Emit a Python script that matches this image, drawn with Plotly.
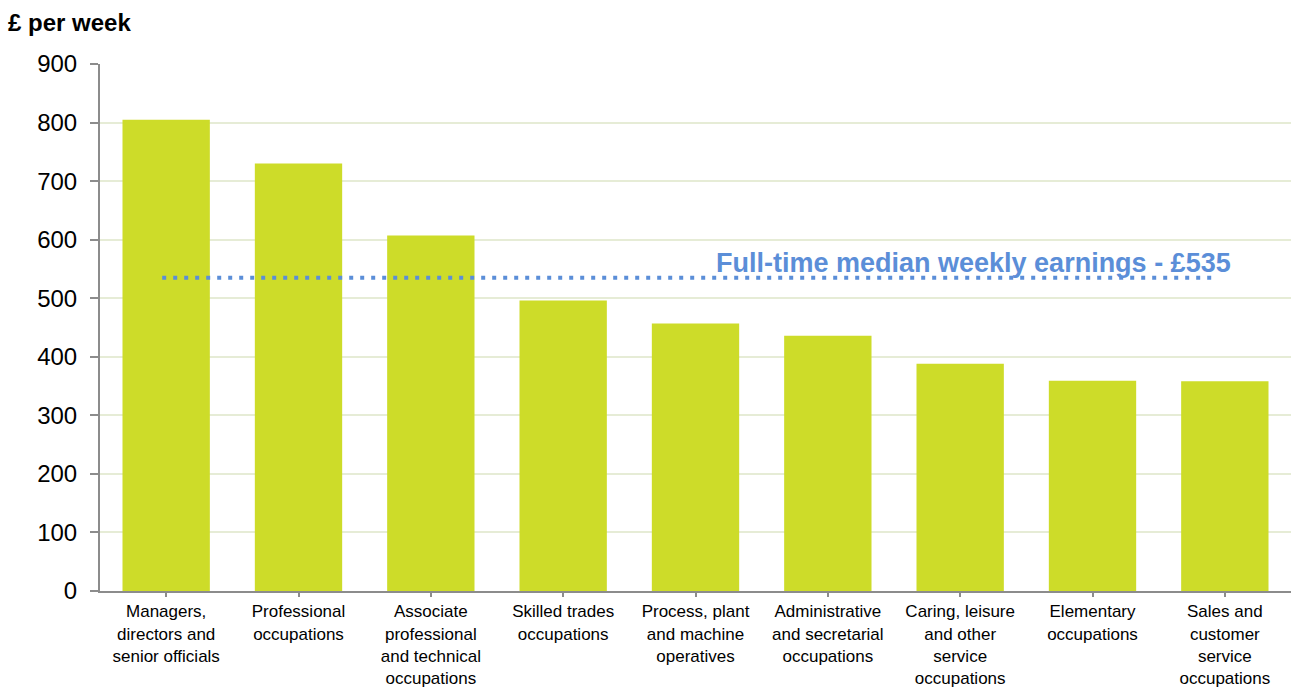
import plotly.graph_objects as go

# Median full-time gross weekly earnings by occupation group
occupations = [
    "Managers,<br>directors and<br>senior officials",
    "Professional<br>occupations",
    "Associate<br>professional<br>and technical<br>occupations",
    "Skilled trades<br>occupations",
    "Process, plant<br>and machine<br>operatives",
    "Administrative<br>and secretarial<br>occupations",
    "Caring, leisure<br>and other<br>service<br>occupations",
    "Elementary<br>occupations",
    "Sales and<br>customer<br>service<br>occupations",
]
weekly_pay = [805, 730, 607, 496, 457, 436, 388, 359, 358]
median_all = 535
y_ticks = [0, 100, 200, 300, 400, 500, 600, 700, 800, 900]

W, H = 1291, 688
L, R, T, B = 100, 0, 64, 97
FONT = "Liberation Sans, Arial, sans-serif"
BLUE = "#5B8ED8"

idx = list(range(len(occupations)))

fig = go.Figure()
fig.add_trace(go.Bar(
    x=idx,
    y=weekly_pay,
    marker=dict(color="#CDDC29", line=dict(width=0)),
    hoverinfo="y",
))

# Full-time median reference line
fig.add_shape(
    type="line", xref="x", yref="y",
    x0=-0.03, x1=7.94, y0=median_all, y1=median_all,
    line=dict(color=BLUE, width=4, dash="4px,7px"),
)
fig.add_annotation(
    xref="x", yref="y", x=8.0, y=median_all,
    xanchor="right", yanchor="bottom", yshift=-2, xshift=8,
    text=f"<b>Full-time median weekly earnings - £{median_all}</b>",
    showarrow=False,
    font=dict(family=FONT, size=27, color=BLUE),
)

fig.update_layout(
    width=W, height=H,
    margin=dict(l=L, r=R, t=T, b=B),
    paper_bgcolor="white",
    plot_bgcolor="white",
    bargap=0.34,
    showlegend=False,
    title=dict(
        text="<b>£ per week</b>",
        x=8 / W, xanchor="left",
        y=1 - 23 / H, yanchor="middle",
        font=dict(family=FONT, size=24, color="#000000"),
    ),
    font=dict(family=FONT, color="#000000"),
)

fig.update_xaxes(
    tickmode="array",
    tickvals=idx,
    ticktext=occupations,
    range=[-0.5, len(occupations) - 0.5],
    tickson="boundaries",
    ticks="outside",
    ticklen=4,
    tickwidth=2,
    tickcolor="#8C8C8C",
    showline=True,
    linecolor="#8C8C8C",
    linewidth=2,
    showgrid=False,
    automargin=False,
    tickfont=dict(family=FONT, size=17, color="#000000"),
    tickangle=0,
)
fig.update_yaxes(
    range=[0, 900],
    tickmode="array",
    tickvals=y_ticks,
    ticks="outside",
    ticklen=8,
    tickwidth=2,
    tickcolor="#8C8C8C",
    ticklabelstandoff=8,
    showline=True,
    linecolor="#8C8C8C",
    linewidth=2,
    showgrid=True,
    gridcolor="#E6ECD6",
    gridwidth=2,
    zeroline=False,
    automargin=False,
    tickfont=dict(family=FONT, size=24, color="#000000"),
)

fig.write_html("out.html")
